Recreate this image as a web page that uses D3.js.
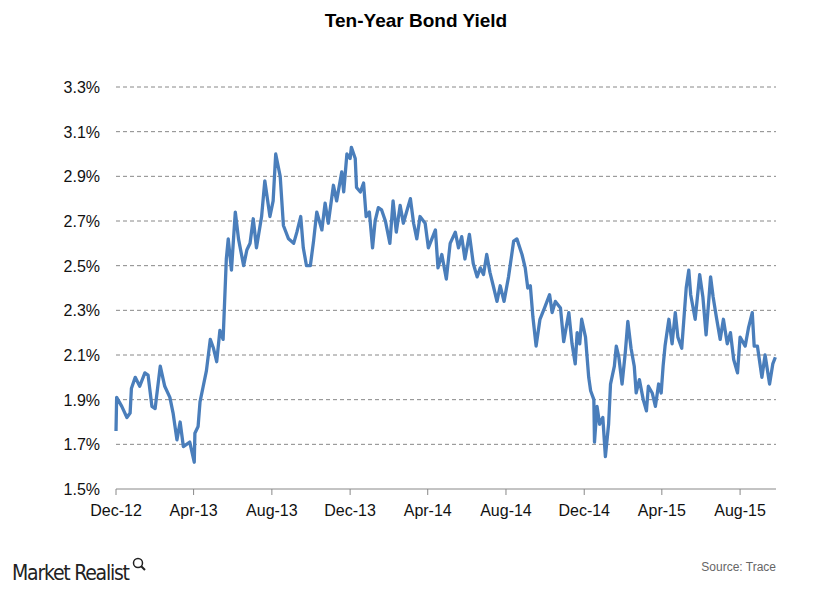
<!DOCTYPE html>
<html><head><meta charset="utf-8">
<script src="https://cdn.jsdelivr.net/npm/d3@7"></script>
<style>body{margin:0;background:#fff}</style>
</head><body>
<svg id="c" width="833" height="591"></svg>
<script>
// days since 2012-12-01
const days = [0,1,9,17,22,24,30,37,45,50,56,61,69,76,84,89,95,100,105,115,122,123,128,131,136,141,147,152,157,162,167,172,175,180,186,191,199,204,209,214,219,227,232,240,245,249,256,261,269,277,282,288,292,297,303,308,313,321,326,331,339,344,352,355,360,365,
367,373,375,381,386,390,395,400,404,409,414,420,427,432,437,443,448,453,459,464,469,474,482,487,498,502,508,515,521,529,534,539,544,551,557,563,568,573,578,583,589,594,599,605,612,620,625,633,638,642,646,650,655,661,668,676,680,685,693,698,706,
711,716,719,723,726,732,737,740,745,746,750,754,759,763,768,771,777,780,784,789,794,798,803,808,811,816,822,827,830,836,841,846,850,853,856,862,867,872,876,882,889,893,896,903,910,915,920,927,931,936,942,947,953,958,963,969,973,981,986,992,995,1000,1007,1012,1019,1024,1028];
const yields = [1.76,1.91,1.87,1.82,1.84,1.95,2.00,1.96,2.02,2.01,1.87,1.86,2.05,1.96,1.91,1.84,1.72,1.80,1.69,1.71,1.62,1.75,1.78,1.89,1.96,2.03,2.17,2.13,2.07,2.21,2.17,2.53,2.62,2.48,2.74,2.62,2.50,2.57,2.60,2.71,2.58,2.72,2.88,2.72,2.79,3.00,2.90,2.68,2.62,2.60,2.65,2.72,2.58,2.50,2.50,2.61,2.74,2.66,2.78,2.69,2.86,2.79,2.92,2.83,3.00,2.98,
3.03,2.98,2.85,2.83,2.87,2.72,2.74,2.58,2.70,2.76,2.75,2.70,2.60,2.79,2.65,2.77,2.69,2.74,2.80,2.69,2.62,2.72,2.69,2.58,2.66,2.49,2.55,2.44,2.60,2.65,2.58,2.63,2.53,2.64,2.51,2.45,2.49,2.46,2.55,2.47,2.40,2.34,2.41,2.34,2.45,2.61,2.62,2.55,2.49,2.40,2.41,2.27,2.14,2.26,2.31,2.37,2.29,2.34,2.31,2.16,2.29,
2.15,2.06,2.20,2.15,2.26,2.18,2.00,1.94,1.90,1.71,1.87,1.79,1.82,1.645,1.79,1.97,2.05,2.14,2.09,1.97,2.11,2.25,2.13,2.05,1.93,1.99,1.90,1.85,1.96,1.93,1.87,1.97,1.93,2.05,2.14,2.26,2.15,2.29,2.18,2.13,2.40,2.48,2.37,2.26,2.46,2.36,2.19,2.45,2.36,2.27,2.17,2.26,2.15,2.20,2.08,2.02,2.18,2.14,2.22,2.29,2.14,2.14,2.00,2.10,1.97,2.06,2.09];
const yTicks = [1.5,1.7,1.9,2.1,2.3,2.5,2.7,2.9,3.1,3.3];
const xTickLabels = ["Dec-12","Apr-13","Aug-13","Dec-13","Apr-14","Aug-14","Dec-14","Apr-15","Aug-15"];
const start = new Date(2012,11,1);
const data = days.map((d,i)=>({date:d3.timeDay.offset(start,d), v:yields[i]}));
const xTickDates = xTickLabels.map((_,i)=>d3.timeMonth.offset(start,4*i));

const svg = d3.select("#c");
const L=116,R=776,T=87,B=489;
const x = d3.scaleTime().domain([start, d3.timeDay.offset(start,1029)]).range([L,R]);
const y = d3.scaleLinear().domain([1.5,3.3]).range([B,T]);

svg.append("text").attr("x",416).attr("y",27).attr("text-anchor","middle")
 .attr("font-family","Liberation Sans, Arial").attr("font-weight","bold").attr("font-size",19).text("Ten-Year Bond Yield");

svg.append("g").selectAll("line").data(yTicks.slice(1)).join("line")
 .attr("x1",L).attr("x2",R).attr("y1",d=>y(d)).attr("y2",d=>y(d))
 .attr("stroke","#888").attr("stroke-dasharray","4,3").attr("stroke-width",1);

svg.append("g").selectAll("text").data(yTicks).join("text")
 .attr("x",100).attr("y",d=>y(d)+6).attr("text-anchor","end")
 .attr("font-family","Liberation Sans, Arial").attr("font-size",16).attr("fill","#111")
 .text(d=>d.toFixed(1)+"%");

svg.append("line").attr("x1",L).attr("x2",R).attr("y1",B).attr("y2",B).attr("stroke","#888");
svg.append("g").selectAll("line").data(xTickDates).join("line")
 .attr("x1",d=>x(d)).attr("x2",d=>x(d)).attr("y1",B).attr("y2",B+6).attr("stroke","#888");
svg.append("g").selectAll("text").data(xTickDates).join("text")
 .attr("x",d=>x(d)).attr("y",516).attr("text-anchor","middle")
 .attr("font-family","Liberation Sans, Arial").attr("font-size",16).attr("fill","#111")
 .text((d,i)=>xTickLabels[i]);

svg.append("path").datum(data)
 .attr("d",d3.line().x(d=>x(d.date)).y(d=>y(d.v)))
 .attr("fill","none").attr("stroke","#4a7ebb").attr("stroke-width",3.3).attr("stroke-linejoin","round");

svg.append("text").attr("x",12).attr("y",580).attr("font-family","Liberation Sans Narrow, DejaVu Sans Condensed, Arial")
 .attr("font-size",21).attr("fill","#222").attr("textLength",118).text("Market Realist");
const g = svg.append("g").attr("transform","translate(138,563)");
g.append("circle").attr("r",4.5).attr("fill","none").attr("stroke","#222").attr("stroke-width",1.5);
g.append("line").attr("x1",3.2).attr("y1",3.2).attr("x2",7).attr("y2",7).attr("stroke","#222").attr("stroke-width",2);
svg.append("text").attr("x",776).attr("y",571).attr("text-anchor","end")
 .attr("font-family","Liberation Sans Narrow, Arial").attr("font-size",12).attr("fill","#666").text("Source: Trace");
</script>
</body></html>
